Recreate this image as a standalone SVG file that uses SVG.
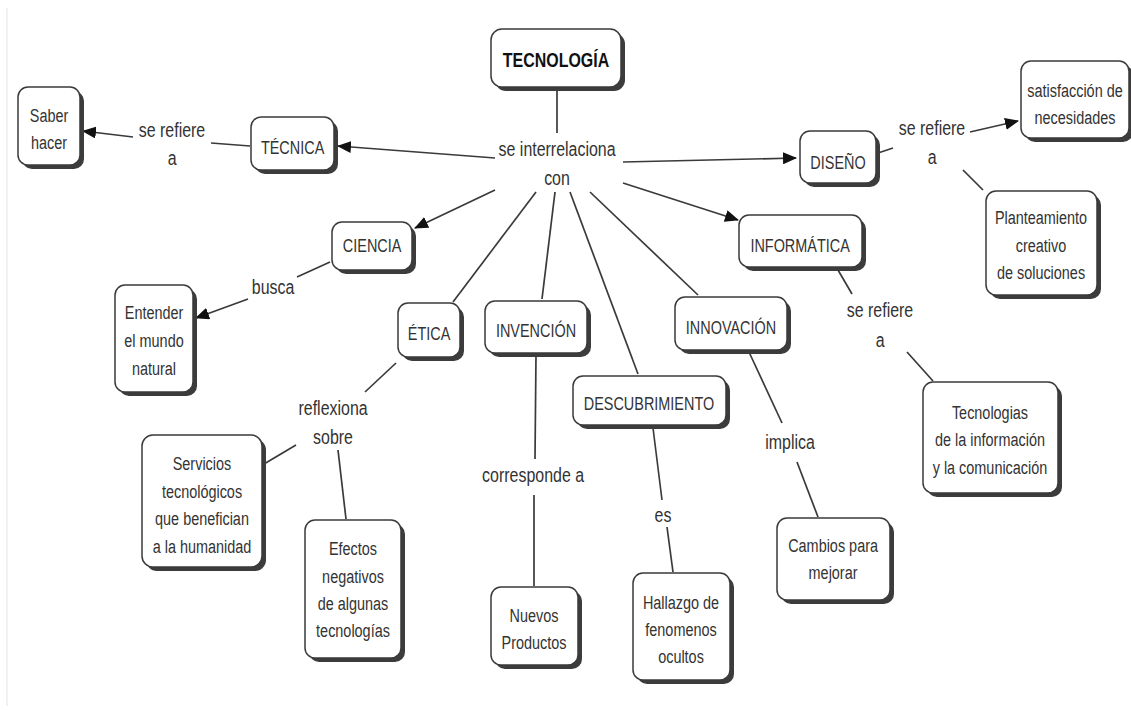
<svg xmlns="http://www.w3.org/2000/svg" width="1131" height="710" viewBox="0 0 1131 710">
<style>
.sh{fill:#3c3c3c}
.bx{fill:#fff;stroke:#3a3a3a;stroke-width:1.5}
text{font-family:"Liberation Sans",Arial,sans-serif;font-size:19px;fill:#333;text-anchor:middle;transform-box:fill-box;transform-origin:center;transform:scaleX(.76)}
.l text{font-size:21px}
.b{font-weight:bold;font-size:21px;fill:#111}
.c line{stroke:#3a3a3a;stroke-width:1.7}
.c .a{marker-end:url(#ah)}
</style>
<defs>
<marker id="ah" markerUnits="userSpaceOnUse" markerWidth="14" markerHeight="12" refX="13" refY="6" orient="auto">
<path d="M0,0 L14,6 L0,12 z" fill="#111"/>
</marker>
</defs>
<rect width="1131" height="710" fill="#fff"/>
<line x1="7" y1="8" x2="7" y2="706" stroke="#ececec" stroke-width="1.5"/>
<g class="c" id="connectors">
<line x1="557" y1="87" x2="557" y2="133"/>
<line class="a" x1="495" y1="158" x2="338" y2="146"/>
<line class="a" x1="623" y1="162" x2="796" y2="158"/>
<line class="a" x1="495" y1="190" x2="415" y2="228"/>
<line class="a" x1="623" y1="183" x2="738" y2="220"/>
<line x1="536" y1="192" x2="453" y2="302"/>
<line x1="555" y1="192" x2="542" y2="299"/>
<line x1="570" y1="192" x2="638" y2="374"/>
<line x1="590" y1="192" x2="698" y2="295"/>
<line x1="250" y1="146" x2="211" y2="143"/>
<line class="a" x1="133" y1="137" x2="83" y2="131"/>
<line x1="878" y1="153" x2="893" y2="148"/>
<line class="a" x1="970" y1="132" x2="1018" y2="121"/>
<line x1="963" y1="170" x2="983" y2="190"/>
<line x1="330" y1="262" x2="297" y2="277"/>
<line class="a" x1="248" y1="299" x2="196" y2="318"/>
<line x1="396" y1="363" x2="365" y2="392"/>
<line x1="296" y1="445" x2="264" y2="464"/>
<line x1="338" y1="450" x2="346" y2="519"/>
<line x1="536" y1="355" x2="535" y2="459"/>
<line x1="534" y1="495" x2="534" y2="586"/>
<line x1="653" y1="428" x2="662" y2="500"/>
<line x1="667" y1="527" x2="673" y2="572"/>
<line x1="749" y1="352" x2="782" y2="423"/>
<line x1="797" y1="462" x2="818" y2="517"/>
<line x1="838" y1="270" x2="852" y2="294"/>
<line x1="907" y1="352" x2="933" y2="381"/>
</g>
<g id="tecnologia"><rect class="sh" x="495" y="33" width="130" height="58" rx="11"/><rect class="bx" x="491" y="29" width="130" height="58" rx="11"/><text class="b" x="556" y="67">TECNOLOGÍA</text></g>
<g id="lbl-interrelaciona" class="l"><text x="557" y="156">se interrelaciona</text><text x="557" y="185">con</text></g>
<g id="tecnica"><rect class="sh" x="255" y="121" width="83" height="53" rx="10"/><rect class="bx" x="251" y="117" width="83" height="53" rx="10"/><text x="292.5" y="154">TÉCNICA</text></g>
<g id="lbl-tecnica" class="l"><text x="172" y="137">se refiere</text><text x="172" y="165">a</text></g>
<g id="saber-hacer"><rect class="sh" x="22" y="91" width="62" height="78" rx="10"/><rect class="bx" x="18" y="87" width="62" height="78" rx="10"/><text x="49" y="122">Saber</text><text x="49" y="149">hacer</text></g>
<g id="diseno"><rect class="sh" x="804" y="135" width="76" height="52" rx="10"/><rect class="bx" x="800" y="131" width="76" height="52" rx="10"/><text x="838" y="169">DISEÑO</text></g>
<g id="lbl-diseno" class="l"><text x="932" y="135">se refiere</text><text x="932" y="164">a</text></g>
<g id="satisfaccion"><rect class="sh" x="1025" y="65" width="108" height="77" rx="10"/><rect class="bx" x="1021" y="61" width="108" height="77" rx="10"/><text x="1075" y="97">satisfacción de</text><text x="1075" y="124">necesidades</text></g>
<g id="planteamiento"><rect class="sh" x="990" y="195" width="111" height="104" rx="10"/><rect class="bx" x="986" y="191" width="111" height="104" rx="10"/><text x="1041" y="224">Planteamiento</text><text x="1041" y="252">creativo</text><text x="1041" y="279">de soluciones</text></g>
<g id="informatica"><rect class="sh" x="743" y="219" width="123" height="52" rx="10"/><rect class="bx" x="739" y="215" width="123" height="52" rx="10"/><text x="800" y="252">INFORMÁTICA</text></g>
<g id="lbl-informatica" class="l"><text x="880" y="317">se refiere</text><text x="880" y="347">a</text></g>
<g id="tic"><rect class="sh" x="927" y="386" width="135" height="111" rx="10"/><rect class="bx" x="923" y="382" width="135" height="111" rx="10"/><text x="990" y="419">Tecnologias</text><text x="990" y="446">de la información</text><text x="990" y="474">y la comunicación</text></g>
<g id="ciencia"><rect class="sh" x="336" y="226" width="80" height="48" rx="10"/><rect class="bx" x="332" y="222" width="80" height="48" rx="10"/><text x="372" y="252">CIENCIA</text></g>
<g id="lbl-busca" class="l"><text x="273" y="294">busca</text></g>
<g id="entender"><rect class="sh" x="119" y="289" width="78" height="107" rx="10"/><rect class="bx" x="115" y="285" width="78" height="107" rx="10"/><text x="154" y="319">Entender</text><text x="154" y="347">el mundo</text><text x="154" y="375">natural</text></g>
<g id="etica"><rect class="sh" x="402" y="307" width="62" height="54" rx="10"/><rect class="bx" x="398" y="303" width="62" height="54" rx="10"/><text x="429" y="340">ÉTICA</text></g>
<g id="lbl-reflexiona" class="l"><text x="333" y="415">reflexiona</text><text x="333" y="444">sobre</text></g>
<g id="servicios"><rect class="sh" x="146" y="439" width="120" height="132" rx="11"/><rect class="bx" x="142" y="435" width="120" height="132" rx="11"/><text x="202" y="470">Servicios</text><text x="202" y="498">tecnológicos</text><text x="202" y="525">que benefician</text><text x="202" y="553">a la humanidad</text></g>
<g id="efectos"><rect class="sh" x="309" y="524" width="96" height="138" rx="10"/><rect class="bx" x="305" y="520" width="96" height="138" rx="10"/><text x="353" y="555">Efectos</text><text x="353" y="583">negativos</text><text x="353" y="610">de algunas</text><text x="353" y="637">tecnologías</text></g>
<g id="invencion"><rect class="sh" x="489" y="305" width="102" height="52" rx="10"/><rect class="bx" x="485" y="301" width="102" height="52" rx="10"/><text x="536" y="337">INVENCIÓN</text></g>
<g id="lbl-corresponde" class="l"><text x="533" y="482">corresponde a</text></g>
<g id="nuevos"><rect class="sh" x="495" y="591" width="87" height="78" rx="10"/><rect class="bx" x="491" y="587" width="87" height="78" rx="10"/><text x="534" y="622">Nuevos</text><text x="534" y="649">Productos</text></g>
<g id="descubrimiento"><rect class="sh" x="577" y="380" width="153" height="49" rx="10"/><rect class="bx" x="573" y="376" width="153" height="49" rx="10"/><text x="649" y="410">DESCUBRIMIENTO</text></g>
<g id="lbl-es" class="l"><text x="663" y="522">es</text></g>
<g id="hallazgo"><rect class="sh" x="637" y="577" width="97" height="107" rx="10"/><rect class="bx" x="633" y="573" width="97" height="107" rx="10"/><text x="681" y="609">Hallazgo de</text><text x="681" y="636">fenomenos</text><text x="681" y="663">ocultos</text></g>
<g id="innovacion"><rect class="sh" x="679" y="301" width="112" height="53" rx="10"/><rect class="bx" x="675" y="297" width="112" height="53" rx="10"/><text x="731" y="334">INNOVACIÓN</text></g>
<g id="lbl-implica" class="l"><text x="790" y="449">implica</text></g>
<g id="cambios"><rect class="sh" x="781" y="522" width="113" height="82" rx="10"/><rect class="bx" x="777" y="518" width="113" height="82" rx="10"/><text x="833" y="552">Cambios para</text><text x="833" y="579">mejorar</text></g>
</svg>
